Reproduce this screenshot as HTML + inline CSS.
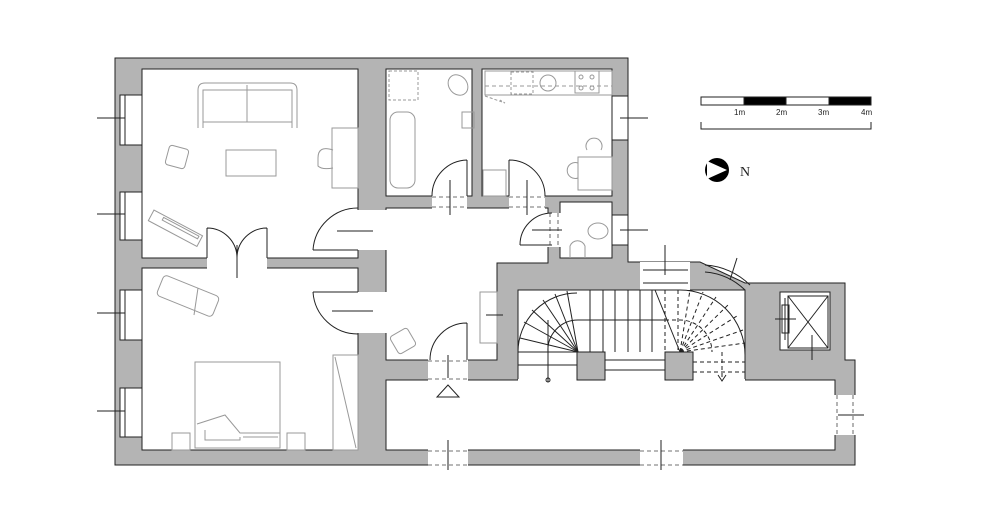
<!DOCTYPE html>
<html><head><meta charset="utf-8"><style>
html,body{margin:0;padding:0;background:#fff;width:1000px;height:519px;overflow:hidden}
svg{display:block}
</style></head><body>
<svg width="1000" height="519" viewBox="0 0 1000 519" xmlns="http://www.w3.org/2000/svg">
<g stroke="#222" stroke-width="1">
<!-- building mass -->
<polygon fill="#b4b4b4" points="115,58 628,58 628,262 700,262 745,283 845,283 845,360 855,360 855,465 115,465"/>
<g fill="#fff">
<rect x="142" y="69" width="216" height="189"/>
<rect x="142" y="268" width="216" height="182"/>
<rect x="386" y="69" width="86" height="127"/>
<rect x="482" y="69" width="130" height="127"/>
<rect x="560" y="202" width="52" height="56"/>
<polygon points="386,208 548,208 548,263 497,263 497,360 386,360"/>
<rect x="386" y="380" width="449" height="70"/>
<rect x="518" y="290" width="227" height="90"/>
<rect x="780" y="292" width="50" height="58"/>
</g>
<!-- openings (white, no stroke) -->
<g fill="#fff" stroke="none">
<rect x="357" y="210" width="30" height="40"/>
<rect x="357" y="292" width="30" height="41"/>
<rect x="207" y="257" width="60" height="12"/>
<rect x="432" y="195" width="35" height="14"/>
<rect x="509" y="195" width="36" height="14"/>
<rect x="547" y="213" width="14" height="34"/>
<rect x="428" y="359" width="40" height="22"/>
<rect x="428" y="449" width="40" height="17"/>
<rect x="640" y="449" width="43" height="17"/>
<rect x="834" y="395" width="22" height="40"/>
<rect x="640" y="262" width="50" height="28"/>
<rect x="518" y="379" width="227" height="2"/>
</g>
<!-- stair pillars -->
<rect x="577" y="352" width="28" height="28" fill="#b4b4b4"/>
<rect x="665" y="352" width="28" height="28" fill="#b4b4b4"/>
<rect x="497" y="292" width="0.1" height="0"/>
</g>
<!-- dashed openings -->
<g stroke="#444" stroke-width="0.8" stroke-dasharray="4,3" fill="none">
<line x1="428" y1="451" x2="468" y2="451"/><line x1="428" y1="465" x2="468" y2="465"/>
<line x1="640" y1="451" x2="683" y2="451"/><line x1="640" y1="465" x2="683" y2="465"/>
<line x1="837" y1="395" x2="837" y2="435"/><line x1="853" y1="395" x2="853" y2="435"/>
<line x1="428" y1="361" x2="468" y2="361"/><line x1="428" y1="379" x2="468" y2="379"/>
<line x1="432" y1="197" x2="467" y2="197"/><line x1="432" y1="207" x2="467" y2="207"/>
<line x1="509" y1="197" x2="545" y2="197"/><line x1="509" y1="207" x2="545" y2="207"/>
<line x1="550" y1="213" x2="550" y2="247"/><line x1="558" y1="213" x2="558" y2="247"/>
<line x1="141" y1="95" x2="141" y2="145"/><line x1="141" y1="192" x2="141" y2="240"/>
<line x1="141" y1="290" x2="141" y2="340"/><line x1="141" y1="388" x2="141" y2="437"/>
<line x1="613" y1="96" x2="613" y2="140"/>
</g>
<g stroke="#222" stroke-width="1" fill="none">
<!-- tick lines at openings -->
<line x1="448" y1="440" x2="448" y2="470"/><line x1="661" y1="440" x2="661" y2="470"/>
<line x1="838" y1="415" x2="864" y2="415"/>
<line x1="448" y1="355" x2="448" y2="378"/>
<polygon points="448,385 437,397 459,397"/>
<line x1="450" y1="180" x2="450" y2="215"/><line x1="527" y1="180" x2="527" y2="215"/>
<line x1="532" y1="230" x2="562" y2="230"/>
<line x1="337" y1="231" x2="373" y2="231"/><line x1="332" y1="311" x2="373" y2="311"/>
<line x1="237" y1="245" x2="237" y2="278"/>
<!-- doors -->
<path d="M313,250 L358,250 M313,250 A45,45 0 0 1 358,208"/>
<path d="M313,292 L358,292 M313,292 A45,45 0 0 0 358,334"/>
<path d="M467,160 L467,196 M467,160 A36,36 0 0 0 432,196"/>
<path d="M509,160 L509,196 M509,160 A36,36 0 0 1 545,196"/>
<path d="M520,245 L552,245 M520,245 A32,32 0 0 1 552,213"/>
<path d="M467,323 L467,360 M467,323 A37,37 0 0 0 430,360"/>
<path d="M207,228 L207,258 M207,228 A30,30 0 0 1 237,258"/>
<path d="M267,228 L267,258 M267,228 A30,30 0 0 0 237,258"/>
<!-- left windows -->
<g fill="#fff">
<rect x="120" y="95" width="22" height="50"/><rect x="120" y="192" width="22" height="48"/>
<rect x="120" y="290" width="22" height="50"/><rect x="120" y="388" width="22" height="49"/>
<rect x="612" y="96" width="16" height="44"/><rect x="612" y="215" width="16" height="30"/>
<rect x="780" y="292" width="50" height="58"/>
</g>
<line x1="125" y1="95" x2="125" y2="145"/><line x1="125" y1="192" x2="125" y2="240"/>
<line x1="125" y1="290" x2="125" y2="340"/><line x1="125" y1="388" x2="125" y2="437"/>
<line x1="97" y1="118" x2="125" y2="118"/><line x1="97" y1="214" x2="125" y2="214"/>
<line x1="97" y1="313" x2="125" y2="313"/><line x1="97" y1="411" x2="125" y2="411"/>
<line x1="620" y1="118" x2="648" y2="118"/><line x1="620" y1="230" x2="648" y2="230"/>
<line x1="665" y1="245" x2="665" y2="275"/>
<line x1="643" y1="270" x2="688" y2="270"/><line x1="643" y1="283" x2="688" y2="283"/>
<!-- curved window -->
<path d="M705,265 A70,70 0 0 1 750,285"/><path d="M705,272 A65,65 0 0 1 745,290"/>
<line x1="737" y1="258" x2="730" y2="280"/>
<!-- stairs -->
<path d="M518,352 A59,59 0 0 1 577,293"/>
<path d="M548,352 A30,30 0 0 1 578,320"/>
<line x1="578" y1="320" x2="665" y2="320"/>
<line x1="518" y1="352" x2="577" y2="352"/>
<line x1="518" y1="365" x2="577" y2="365"/>
<line x1="605" y1="360" x2="665" y2="360"/><line x1="605" y1="370" x2="665" y2="370"/>
<g>
<line x1="578" y1="352" x2="520" y2="338"/><line x1="578" y1="352" x2="524" y2="322"/>
<line x1="578" y1="352" x2="532" y2="310"/><line x1="578" y1="352" x2="543" y2="300"/>
<line x1="578" y1="352" x2="555" y2="294"/><line x1="578" y1="352" x2="567" y2="291"/>
<line x1="590" y1="290" x2="590" y2="352"/><line x1="603" y1="290" x2="603" y2="352"/>
<line x1="615" y1="290" x2="615" y2="352"/><line x1="628" y1="290" x2="628" y2="352"/>
<line x1="640" y1="290" x2="640" y2="352"/><line x1="652" y1="290" x2="652" y2="352"/>
<line x1="655" y1="290" x2="680" y2="352"/>
<line x1="548" y1="320" x2="548" y2="382"/>
</g>
<circle cx="548" cy="380" r="2"/>
<g stroke-dasharray="4,3">
<line x1="665" y1="290" x2="665" y2="352"/><line x1="678" y1="290" x2="678" y2="352"/>
<line x1="680" y1="352" x2="690" y2="290"/><line x1="680" y1="352" x2="703" y2="292"/>
<line x1="680" y1="352" x2="716" y2="297"/><line x1="680" y1="352" x2="728" y2="305"/>
<line x1="680" y1="352" x2="737" y2="316"/><line x1="680" y1="352" x2="743" y2="330"/>
<line x1="680" y1="352" x2="745" y2="343"/>
<line x1="693" y1="362" x2="745" y2="362"/><line x1="693" y1="372" x2="745" y2="372"/>
<path d="M665,320 L680,320 A32,32 0 0 1 712,352"/>
<line x1="722" y1="352" x2="722" y2="380"/>
</g>
<path d="M640,290 L680,290 A65,65 0 0 1 745,355"/>
<path d="M718,375 L722,381 L726,375"/>
<!-- lift -->
<rect x="788" y="296" width="40" height="52"/>
<line x1="788" y1="296" x2="828" y2="348"/><line x1="828" y1="296" x2="788" y2="348"/>
<rect x="782" y="305" width="7" height="28"/>
<line x1="775" y1="319" x2="796" y2="319"/><line x1="785" y1="298" x2="785" y2="340"/>
<line x1="812" y1="335" x2="812" y2="360"/>
<!-- radiator box -->
<rect x="480" y="292" width="17" height="51" stroke="#999" fill="#fff"/>
<line x1="486" y1="315" x2="503" y2="315"/>
</g>
<!-- furniture -->
<g stroke="#999" stroke-width="1" fill="none">
<path d="M198,128 L198,90 Q198,83 205,83 L290,83 Q297,83 297,90 L297,128 M203,128 L203,90 L292,90 L292,128 M247,85 L247,122 M203,122 L292,122"/>
<rect x="226" y="150" width="50" height="26"/>
<rect x="167" y="147" width="20" height="20" rx="3" transform="rotate(15 177 157)"/>
<rect x="332" y="128" width="26" height="60"/>
<path d="M333,150 Q318,145 318,158 L318,166 Q322,170 333,168"/>
<rect x="148" y="222" width="55" height="12" transform="rotate(28 175 228)"/>
<rect x="160" y="224" width="40" height="3" transform="rotate(28 175 228)"/>
<rect x="158" y="285" width="60" height="22" rx="4" transform="rotate(22 188 296)"/>
<line x1="198" y1="288" x2="194" y2="315"/>
<rect x="195" y="362" width="85" height="86"/>
<path d="M197,424 L225,415 L240,433 L280,433 M205,430 L205,440 L240,440 L240,437 M243,437 L278,437"/>
<rect x="172" y="433" width="18" height="17"/><rect x="287" y="433" width="18" height="17"/>
<rect x="333" y="355" width="25" height="95"/><line x1="335" y1="357" x2="356" y2="448"/>
<rect x="390" y="112" width="25" height="76" rx="8"/>
<rect x="389" y="71" width="29" height="29" stroke-dasharray="3,2"/>
<ellipse cx="458" cy="85" rx="9" ry="11" transform="rotate(-40 458 85)"/>
<rect x="462" y="112" width="12" height="16"/>
<rect x="485" y="71" width="127" height="24"/>
<rect x="511" y="72" width="22" height="22" stroke-dasharray="3,2"/>
<circle cx="548" cy="83" r="8"/>
<rect x="575" y="71" width="24" height="22"/>
<circle cx="581" cy="77" r="2"/><circle cx="592" cy="77" r="2"/><circle cx="581" cy="88" r="2"/><circle cx="592" cy="88" r="2"/>
<line x1="485" y1="86" x2="612" y2="86" stroke-dasharray="4,3"/>
<path d="M485,96 L505,103 L500,100" stroke-dasharray="3,2"/>
<rect x="578" y="157" width="34" height="33"/>
<path d="M587,150 A8,8 0 1 1 601,150"/><path d="M578,163 A8,8 0 1 0 578,178"/>
<rect x="483" y="170" width="23" height="26"/>
<ellipse cx="598" cy="231" rx="10" ry="8"/>
<path d="M570,258 L570,246 A8,8 0 0 1 585,246 L585,258"/>
<rect x="393" y="331" width="20" height="20" rx="3" transform="rotate(-30 403 341)"/>
</g>
<!-- scale bar -->
<g stroke="#222" stroke-width="1">
<rect x="701" y="97" width="170" height="8" fill="#fff"/>
<rect x="744" y="97" width="42" height="8" fill="#000"/>
<rect x="829" y="97" width="42" height="8" fill="#000"/>
<path d="M701,122 L701,129 L871,129 L871,122" fill="none"/>
</g>
<g font-family="Liberation Sans, sans-serif" font-size="8" fill="#222">
<text x="734" y="115">1m</text><text x="776" y="115">2m</text><text x="818" y="115">3m</text><text x="861" y="115">4m</text>
</g>
<circle cx="717" cy="170" r="12" fill="#000"/>
<polygon points="707,161 727,170 707,179" fill="#fff"/>
<text x="740" y="176" font-family="Liberation Serif, serif" font-size="14" fill="#222">N</text>
</svg>
</body></html>
